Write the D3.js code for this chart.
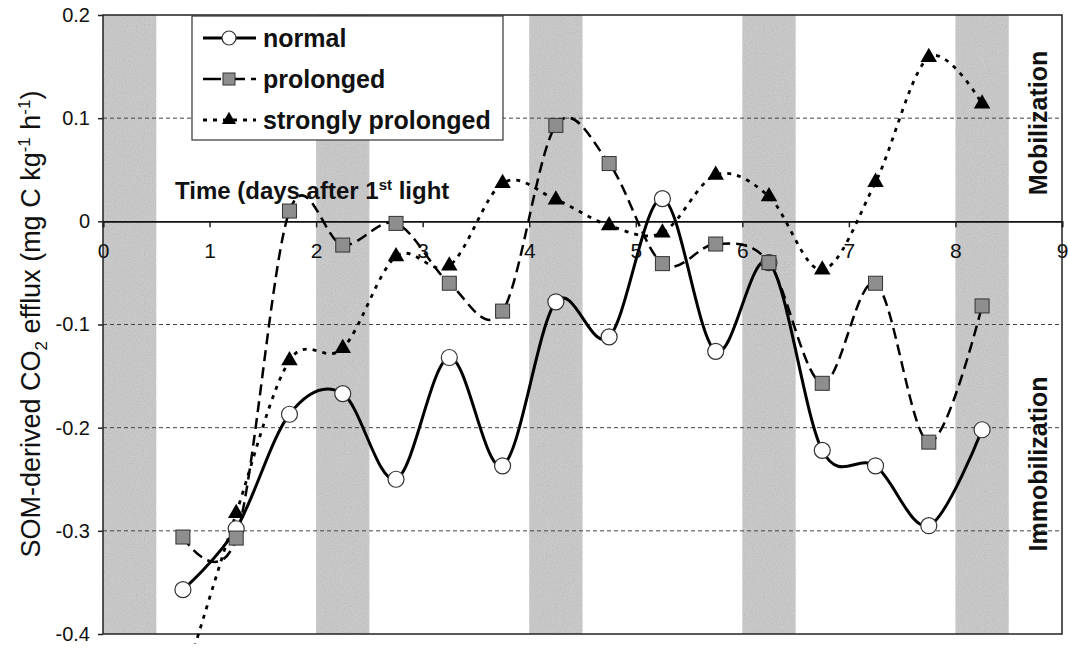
<!DOCTYPE html>
<html>
<head>
<meta charset="utf-8">
<script src="https://cdn.jsdelivr.net/npm/d3@7"></script>
<style>
  body { margin: 0; background: #fff; }
  text { font-family: Arial, "Liberation Sans", sans-serif; fill: #111; }
</style>
</head>
<body>
<svg></svg>
<script>
// days after first light for every measurement
const days = [0.75, 1.25, 1.75, 2.25, 2.75, 3.25, 3.75, 4.25, 4.75, 5.25, 5.75, 6.25, 6.75, 7.25, 7.75, 8.25]

const normal = [-0.357, -0.298, -0.187, -0.167, -0.25, -0.132, -0.237, -0.078, -0.112, 0.022, -0.126, -0.04, -0.222, -0.237, -0.295, -0.202]
const prolonged = [-0.306, -0.307, 0.01, -0.023, -0.002, -0.06, -0.087, 0.093, 0.056, -0.041, -0.022, -0.04, -0.157, -0.06, -0.214, -0.082]
const stronglyProlonged = [-0.45, -0.283, -0.135, -0.123, -0.034, -0.043, 0.037, 0.021, -0.004, -0.011, 0.045, 0.024, -0.047, 0.038, 0.159, 0.114]

// dark periods (shaded)
const darkStart = [0, 2, 4, 6, 8]
const darkLength = 0.5

const xTicks = [0, 1, 2, 3, 4, 5, 6, 7, 8, 9]
const yTicks = [0.2, 0.1, 0, -0.1, -0.2, -0.3, -0.4]
const gridValues = [0.1, -0.1, -0.2, -0.3]

const svg = d3.select("svg")
    .attr("width", 1068)
    .attr("height", 648)

const plotLeft = 103, plotRight = 1062, plotTop = 15, plotBottom = 634

const x = d3.scaleLinear().domain([0, 9]).range([plotLeft, plotRight])
const y = d3.scaleLinear().domain([-0.4, 0.2]).range([plotBottom, plotTop])

const defs = svg.append("defs")

// clip for the curves
defs.append("clipPath")
    .attr("id", "plot-clip")
    .append("rect")
    .attr("x", plotLeft)
    .attr("y", plotTop)
    .attr("width", plotRight - plotLeft)
    .attr("height", plotBottom - plotTop + 10)

// grainy look of the scanned grey bands
const grain = defs.append("filter")
    .attr("id", "grain")
    .attr("x", 0).attr("y", 0).attr("width", 1).attr("height", 1)
grain.append("feTurbulence")
    .attr("type", "fractalNoise")
    .attr("baseFrequency", 0.9)
    .attr("numOctaves", 1)
    .attr("seed", 3)
    .attr("result", "noise")
grain.append("feColorMatrix")
    .attr("in", "noise")
    .attr("type", "matrix")
    .attr("values", "0 0 0 0 0.45  0 0 0 0 0.45  0 0 0 0 0.45  1.6 0 0 0 -0.65")
    .attr("result", "dots")
grain.append("feComposite")
    .attr("in", "dots")
    .attr("in2", "SourceGraphic")
    .attr("operator", "in")
    .attr("result", "speckle")
const merge = grain.append("feMerge")
merge.append("feMergeNode").attr("in", "SourceGraphic")
merge.append("feMergeNode").attr("in", "speckle")

// shaded night bands
svg.selectAll("rect.dark")
    .data(darkStart)
    .enter()
    .append("rect")
    .attr("class", "dark")
    .attr("x", d => x(d))
    .attr("y", plotTop)
    .attr("width", d => x(d + darkLength) - x(d))
    .attr("height", plotBottom - plotTop)
    .style("fill", "#cacaca")
    .attr("filter", "url(#grain)")

// dashed gridlines
svg.selectAll("line.grid")
    .data(gridValues)
    .enter()
    .append("line")
    .attr("class", "grid")
    .attr("x1", plotLeft)
    .attr("x2", plotRight)
    .attr("y1", d => y(d))
    .attr("y2", d => y(d))
    .style("stroke", "#444")
    .style("stroke-width", 1)
    .style("stroke-dasharray", "4,3")

// y axis
const yAxis = svg.append("g")
    .attr("transform", `translate(${plotLeft}, 0)`)
    .call(d3.axisLeft(y).tickValues(yTicks).tickSize(5).tickPadding(8)
        .tickFormat(d => d === 0 ? "0" : d3.format(".1f")(d).replace("\u2212", "-")))
yAxis.select(".domain").remove()
yAxis.selectAll("text").style("font-size", "20px")
yAxis.selectAll("line").style("stroke", "#222").style("stroke-width", 1.5)

// x axis along zero
const xAxis = svg.append("g")
    .attr("transform", `translate(0, ${y(0)})`)
    .call(d3.axisBottom(x).tickValues(xTicks).tickSize(6).tickPadding(16).tickFormat(d3.format("d")))
xAxis.select(".domain").style("stroke", "#111").style("stroke-width", 1.8)
xAxis.selectAll("text").style("font-size", "21px")
xAxis.selectAll("line").style("stroke", "#222").style("stroke-width", 1.5)

// plot frame
svg.append("rect")
    .attr("x", plotLeft)
    .attr("y", plotTop)
    .attr("width", plotRight - plotLeft)
    .attr("height", plotBottom - plotTop)
    .style("fill", "none")
    .style("stroke", "#222")
    .style("stroke-width", 1.5)

const series = [
    { name: "normal", values: normal, dash: null, width: 3, marker: "circle" },
    { name: "prolonged", values: prolonged, dash: "11,6", width: 2.5, marker: "square" },
    { name: "strongly prolonged", values: stronglyProlonged, dash: "4,6", width: 2.8, marker: "triangle" }
]

const line = d3.line()
    .x(d => x(d[0]))
    .y(d => y(d[1]))
    .curve(d3.curveCardinal.tension(0))

const drawMarker = function (g, type, size) {
    if (type === "circle") {
        g.append("circle")
            .attr("r", size / 2)
            .style("fill", "#fff")
            .style("stroke", "#333")
            .style("stroke-width", 1.2)
    } else if (type === "square") {
        g.append("rect")
            .attr("x", -size / 2)
            .attr("y", -size / 2)
            .attr("width", size)
            .attr("height", size)
            .style("fill", "#8e8e8e")
            .style("stroke", "#333")
            .style("stroke-width", 1)
    } else {
        g.append("path")
            .attr("d", d3.symbol().type(d3.symbolTriangle).size(size * size * 0.6)())
            .style("fill", "#000")
    }
}

const plot = svg.append("g").attr("clip-path", "url(#plot-clip)")

series.forEach(s => {
    const pts = days.map((d, i) => [d, s.values[i]])
    plot.append("path")
        .datum(pts)
        .attr("d", line)
        .style("fill", "none")
        .style("stroke", "#000")
        .style("stroke-width", s.width)
        .style("stroke-dasharray", s.dash)
})

series.forEach(s => {
    const pts = days.map((d, i) => [d, s.values[i]])
    plot.selectAll(null)
        .data(pts)
        .enter()
        .append("g")
        .attr("transform", d => `translate(${x(d[0])}, ${y(d[1])})`)
        .each(function () { drawMarker(d3.select(this), s.marker, s.marker === "circle" ? 16 : 14) })
})

// in-plot labels
const timeLabel = svg.append("text")
    .attr("x", 175)
    .attr("y", 199)
    .style("font-size", "24px")
    .style("font-weight", "bold")
timeLabel.append("tspan").text("Time (days after 1")
timeLabel.append("tspan").attr("dy", -9).style("font-size", "15px").text("st")
timeLabel.append("tspan").attr("dy", 9).text(" light")

svg.append("text")
    .attr("transform", "translate(1047, 123) rotate(-90)")
    .attr("text-anchor", "middle")
    .style("font-size", "25px")
    .style("font-weight", "bold")
    .text("Mobilization")

svg.append("text")
    .attr("transform", "translate(1047, 464) rotate(-90)")
    .attr("text-anchor", "middle")
    .style("font-size", "25px")
    .style("font-weight", "bold")
    .text("Immobilization")

// y axis title
const yTitle = svg.append("text")
    .attr("transform", "translate(40, 324) rotate(-90)")
    .attr("text-anchor", "middle")
    .style("font-size", "27px")
yTitle.append("tspan").text("SOM-derived CO")
yTitle.append("tspan").attr("dy", 7).style("font-size", "17px").text("2")
yTitle.append("tspan").attr("dy", -7).text(" efflux (mg C kg")
yTitle.append("tspan").attr("dy", -10).style("font-size", "17px").text("-1")
yTitle.append("tspan").attr("dy", 10).text(" h")
yTitle.append("tspan").attr("dy", -10).style("font-size", "17px").text("-1")
yTitle.append("tspan").attr("dy", 10).text(")")

// legend
const legend = svg.append("g")
legend.append("rect")
    .attr("x", 192)
    .attr("y", 16)
    .attr("width", 311)
    .attr("height", 124)
    .style("fill", "#fff")
    .style("stroke", "#333")
    .style("stroke-width", 1.2)

const rows = legend.selectAll("g.row")
    .data(series)
    .enter()
    .append("g")
    .attr("class", "row")
    .attr("transform", (d, i) => `translate(0, ${38 + i * 41})`)

rows.append("line")
    .attr("x1", 203)
    .attr("x2", 256)
    .style("stroke", "#000")
    .style("stroke-width", d => d.width)
    .style("stroke-dasharray", d => d.dash ? (d.marker === "square" ? "18,6" : "4,6") : null)

rows.each(function (d) {
    const g = d3.select(this).append("g").attr("transform", "translate(229, 0)")
    drawMarker(g, d.marker, d.marker === "circle" ? 14 : 12)
})

rows.append("text")
    .attr("x", 263)
    .attr("y", 9)
    .style("font-size", "25px")
    .style("font-weight", "bold")
    .text(d => d.name)
</script>
</body>
</html>
